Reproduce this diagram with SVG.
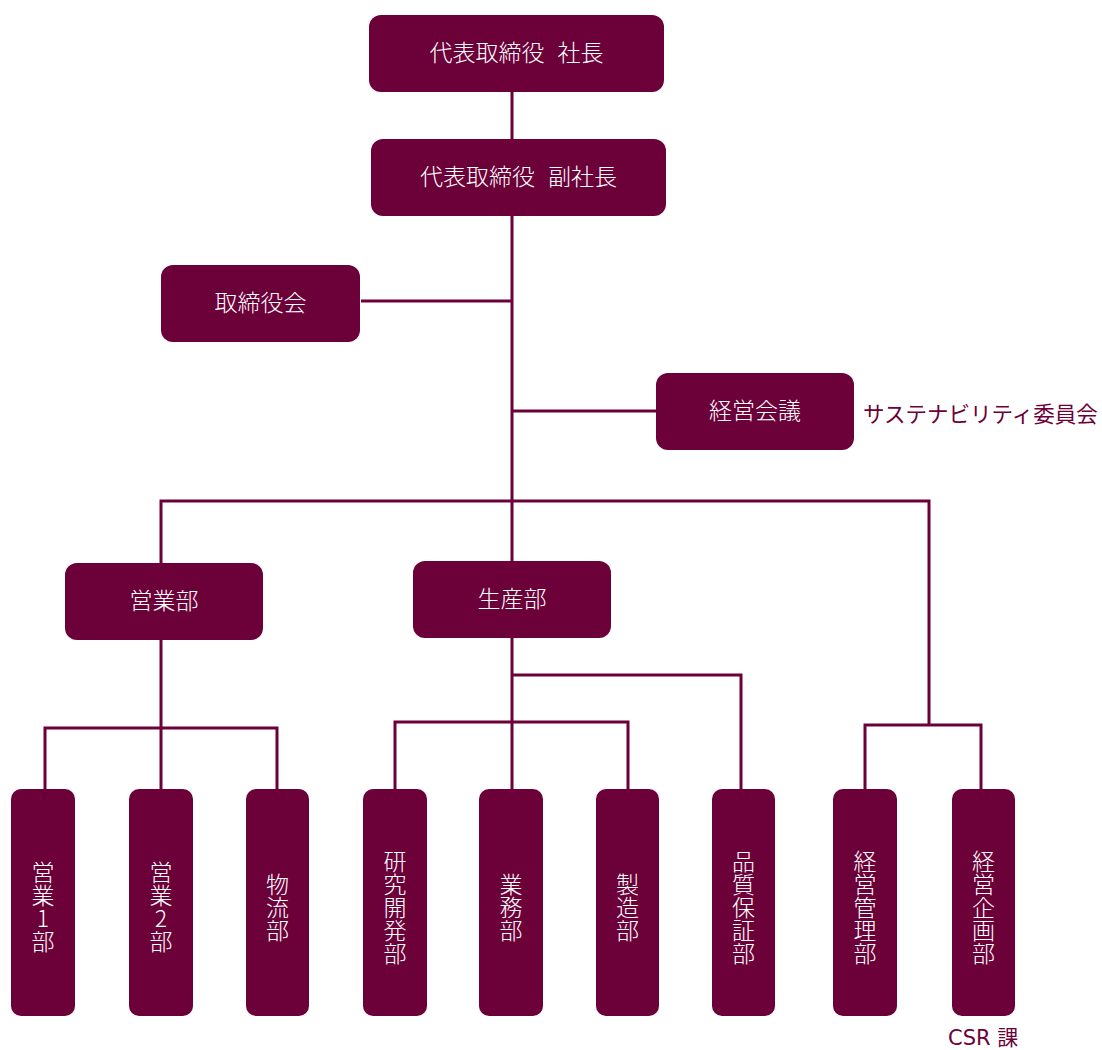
<svg xmlns="http://www.w3.org/2000/svg" width="1102" height="1050" viewBox="0 0 1102 1050">
<style>
.box{fill:#6C0039}
.t{font-family:"Noto Sans CJK JP","Noto Sans",sans-serif;font-size:23px;font-weight:300;fill:#ffffff;text-anchor:middle}
.v{font-family:"Noto Sans CJK JP","Noto Sans",sans-serif;font-size:23px;font-weight:300;fill:#ffffff;text-anchor:middle;writing-mode:vertical-rl;text-orientation:upright}
.lbl{font-family:"DejaVu Sans","Noto Sans CJK JP",sans-serif;fill:#6C0039}
.c path{fill:none;stroke:#6C0039;stroke-width:3;stroke-linejoin:miter}
</style>
<rect width="1102" height="1050" fill="#ffffff"/>
<g class="c" id="connectors">
<path d="M512 92V139"/>
<path d="M512 216V561"/>
<path d="M361 301H512"/>
<path d="M512 411H656"/>
<path d="M161 563V501H929V725"/>
<path d="M161 640V789"/>
<path d="M45 789V728H277V789"/>
<path d="M512 638V789"/>
<path d="M512 675H741V789"/>
<path d="M395 789V722H628V789"/>
<path d="M865 789V725H981V789"/>
</g>
<g id="n-president"><rect class="box" x="369" y="15" width="295" height="77" rx="12"/><text class="t" x="516.5" y="61">代表取締役 <tspan dx="8">社長</tspan></text></g>
<g id="n-vice"><rect class="box" x="371" y="139" width="295" height="77" rx="12"/><text class="t" x="518.5" y="185">代表取締役 <tspan dx="8">副社長</tspan></text></g>
<g id="n-board"><rect class="box" x="161" y="265" width="199" height="77" rx="12"/><text class="t" x="260.5" y="311">取締役会</text></g>
<g id="n-mgmt"><rect class="box" x="656" y="373" width="198" height="77" rx="12"/><text class="t" x="755" y="419">経営会議</text></g>
<g id="n-sustain"><text class="lbl" x="863" y="422" font-size="21.5">サステナビリティ委員会</text></g>
<g id="n-sales"><rect class="box" x="65" y="563" width="198" height="77" rx="12"/><text class="t" x="164" y="609">営業部</text></g>
<g id="n-prod"><rect class="box" x="413" y="561" width="198" height="77" rx="12"/><text class="t" x="512" y="607">生産部</text></g>
<g id="n-s1"><rect class="box" x="11" y="789" width="64" height="227" rx="10"/><text class="v" x="43" y="907">営業1部</text></g>
<g id="n-s2"><rect class="box" x="129" y="789" width="64" height="227" rx="10"/><text class="v" x="161" y="907">営業2部</text></g>
<g id="n-log"><rect class="box" x="246" y="789" width="63" height="227" rx="10"/><text class="v" x="277.5" y="907">物流部</text></g>
<g id="n-rd"><rect class="box" x="363" y="789" width="64" height="227" rx="10"/><text class="v" x="395" y="907">研究開発部</text></g>
<g id="n-ops"><rect class="box" x="479" y="789" width="64" height="227" rx="10"/><text class="v" x="511" y="907">業務部</text></g>
<g id="n-mfg"><rect class="box" x="596" y="789" width="63" height="227" rx="10"/><text class="v" x="627.5" y="907">製造部</text></g>
<g id="n-qa"><rect class="box" x="712" y="789" width="63" height="227" rx="10"/><text class="v" x="743.5" y="907">品質保証部</text></g>
<g id="n-admin"><rect class="box" x="833" y="789" width="64" height="227" rx="10"/><text class="v" x="865" y="907">経営管理部</text></g>
<g id="n-plan"><rect class="box" x="952" y="789" width="63" height="227" rx="10"/><text class="v" x="983.5" y="907">経営企画部</text></g>
<g id="n-csr"><text class="lbl" x="948" y="1045" font-size="21">CSR 課</text></g>
</svg>
